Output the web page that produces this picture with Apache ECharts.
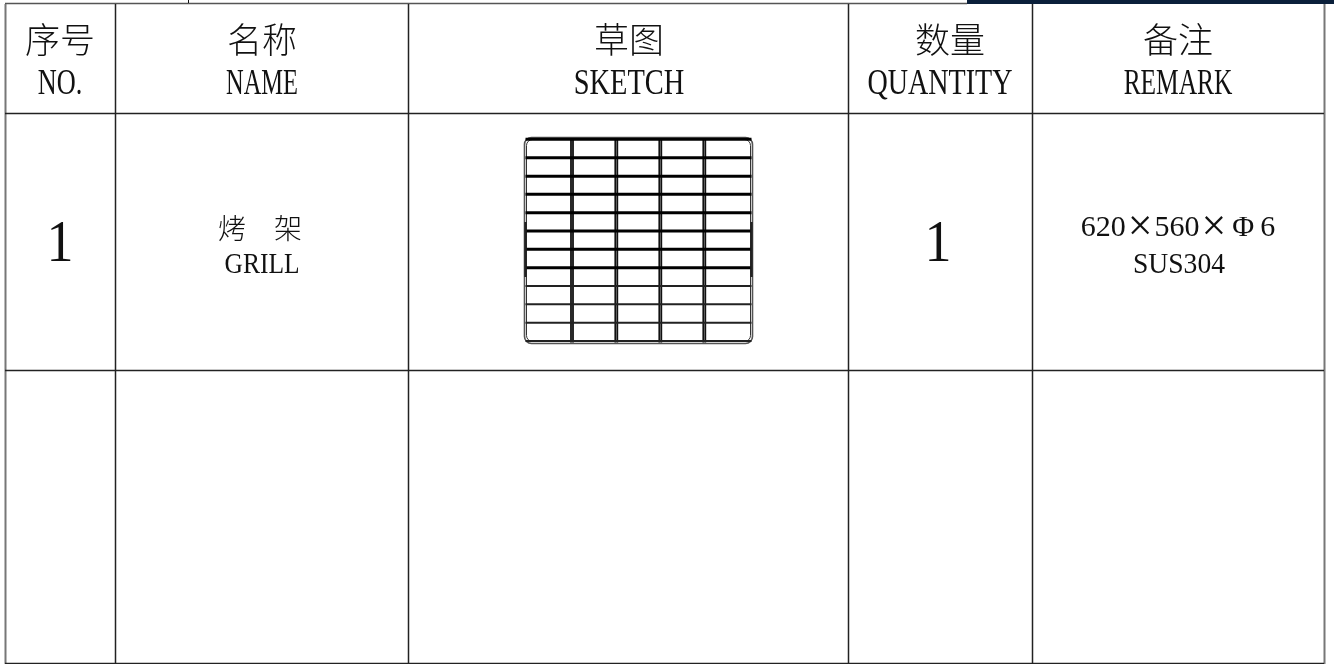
<!DOCTYPE html>
<html><head><meta charset="utf-8">
<style>html,body{margin:0;padding:0;background:#fff}#c{width:1334px;height:664px}</style>
<script src="https://cdn.jsdelivr.net/npm/echarts@6/dist/echarts.min.js"></script>
</head><body><div id="c"></div>
<script>
const colEdges=[5,115,408,848,1032,1324];
const rowEdges=[4,113,370,663];
const headerCn=['序号','名称','草图','数量','备注'];
const headerEn=['NO.','NAME','SKETCH','QUANTITY','REMARK'];
const rowName='烤　架';
const rowIdx='1';
const rowEn='GRILL';
const rowQty='1';
const remarkParts=['620','×','560','×','Φ','6'];
const remark2='SUS304';
const gridRows=[139.3,157.7,176.3,194.3,212.7,231,249.3,267.7,286,304.3,322.7,341];
const gridCols=[572,616.3,660.3,704.3];
const gridBox=[524.5,752.5,137.5,343.5];
const heavyRowCount=8;

const chart=echarts.init(document.getElementById('c'),null,{renderer:'canvas'});
const CN='"Noto Sans CJK SC"';
const EN='"Liberation Serif"';
function line(api,x1,y1,x2,y2,w,c){
  const a=api.coord([x1,y1]),b=api.coord([x2,y2]);
  return {type:'line',shape:{x1:a[0],y1:a[1],x2:b[0],y2:b[1]},style:{stroke:c,lineWidth:w}};
}
function text(api,str,x,y,size,font,sx,sy,weight){
  const p=api.coord([x,y]);
  return {type:'text',x:p[0],y:p[1],scaleX:sx||1,scaleY:sy||1,
    style:{text:str,x:0,y:0,fontFamily:font,fontSize:size,fontWeight:weight||'normal',fill:'#111',align:'center',verticalAlign:'middle'}};
}
function renderAll(params,api){
  const ch=[];
  ch.push(line(api,5,3.5,967,3.5,1.5,'#555'));
  ch.push(line(api,188.5,0,188.5,3,1,'#111'));
  ch.push({type:'rect',shape:{x:967,y:0,width:367,height:4},style:{fill:'#0a1f3a'}});
  colEdges.forEach((x,i)=>{
    const edge=i===0||i===colEdges.length-1;
    ch.push(line(api,x+0.5,4,x+0.5,664,edge?2:1.5,edge?'#777':'#222'));
  });
  rowEdges.slice(1).forEach(y=>ch.push(line(api,5,y+0.5,1324,y+0.5,1.5,'#222')));
  const headX=[60,262,629,950,1178];
  const headW=[0.73,0.68,0.79,0.78,0.706];
  headerCn.forEach((t,i)=>{
    ch.push(text(api,t,headX[i],40,35,CN,1,1,300));
    ch.push(text(api,headerEn[i],i===3?940:headX[i],85,36,EN,headW[i],1));
  });
  ch.push(text(api,rowName,260,228,28,CN,1,1,300));
  ch.push(text(api,rowEn,262,265,30,EN,0.85,1));
  ch.push(text(api,rowIdx,60,245,60,EN,0.9,1));
  ch.push(text(api,rowQty,938,245,60,EN,0.9,1));
  const p=api.coord([1178,228]);
  ch.push({type:'text',x:p[0],y:p[1],style:{
    text:`{d|${remarkParts[0]}}{s| }{x|${remarkParts[1]}}{s| }{d|${remarkParts[2]}}{s| }{x|${remarkParts[3]}}{w| }{d|${remarkParts[4]}}{w| }{d|${remarkParts[5]}}`,
    x:0,y:0,align:'center',verticalAlign:'middle',fill:'#111',
    rich:{d:{fontFamily:EN,fontSize:30,fill:'#111',verticalAlign:'middle'},
          x:{fontFamily:EN,fontSize:44,fill:'#111',verticalAlign:'middle'},
          s:{fontFamily:EN,fontSize:8},
          w:{fontFamily:EN,fontSize:24}}}});
  ch.push(text(api,remark2,1179,265,30,EN,0.92,1));
  const [l,r,t,b]=gridBox;
  const o=api.coord([l,t]),e=api.coord([r,b]);
  ch.push({type:'rect',shape:{x:o[0],y:o[1],width:e[0]-o[0],height:e[1]-o[1],r:7},style:{fill:null,stroke:'#555',lineWidth:1.6}});
  ch.push({type:'rect',shape:{x:o[0]+2,y:o[1]+2,width:e[0]-o[0]-4,height:e[1]-o[1]-4,r:6},style:{fill:null,stroke:'#333',lineWidth:1}});
  gridCols.forEach(x=>{
    ch.push(line(api,x-1,t+1,x-1,b-1,1.8,'#111'));
    ch.push(line(api,x+1,t+1,x+1,b-1,1.8,'#111'));
  });
  gridRows.forEach((y,i)=>{
    ch.push(line(api,l+1,y,r-1,y,i<heavyRowCount?3:2,i<heavyRowCount?'#000':'#222'));
  });
  ch.push(line(api,l+1,222,l+1,277,2.4,'#222'));
  ch.push(line(api,r-1,222,r-1,277,2.4,'#222'));
  return {type:'group',children:ch};
}
chart.setOption({
  animation:false,
  grid:{left:0,right:0,top:0,bottom:0},
  xAxis:{type:'value',min:0,max:1334,show:false},
  yAxis:{type:'value',min:0,max:664,inverse:true,show:false},
  series:[{type:'custom',coordinateSystem:'cartesian2d',clip:false,silent:true,data:[[0,0]],renderItem:renderAll}]
});
</script></body></html>
